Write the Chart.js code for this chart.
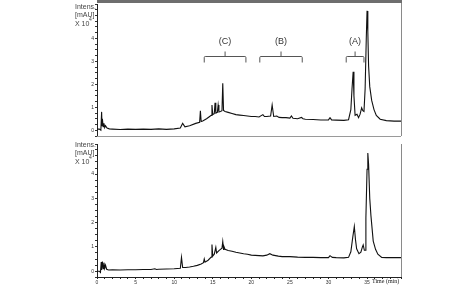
<!DOCTYPE html>
<html>
<head>
  <meta charset="UTF-8">
  <script src="https://cdn.jsdelivr.net/npm/chart.js@4.4.0/dist/chart.umd.min.js"></script>
  <style>
    body { margin: 0; background: #fff; }
    #wrap { position: relative; width: 474px; height: 288px; }
    #wrap canvas { position: absolute; left: 0; }
  </style>
</head>
<body>
  <div id="wrap">
    <canvas id="topChart" width="474" height="140" style="top:0"></canvas>
    <canvas id="bottomChart" width="474" height="148" style="top:140px"></canvas>
  </div>
  <script>
    // retention time (min) and intensity (x10^4 mAU)
    const timeTop = [0, 0.3, 0.5, 0.6, 0.65, 0.7, 0.8, 0.9, 1.0, 1.1, 1.3, 1.6, 2, 3, 4, 5, 6, 7, 8, 9, 10,
      10.8, 11.1, 11.4, 12, 12.8, 13.3, 13.4, 13.5, 13.7, 14.2, 14.6, 14.8, 14.9, 15.0, 15.2, 15.3, 15.4,
      15.6, 15.7, 15.8, 16.0, 16.2, 16.3, 16.4, 16.6, 17, 17.5, 18, 18.5, 19, 19.5, 20, 20.5, 21, 21.5,
      21.7, 22, 22.5, 22.7, 22.9, 23.3, 23.6, 24, 24.5, 25, 25.2, 25.4, 26, 26.5, 26.7, 27, 28, 29, 30,
      30.2, 30.4, 31, 32, 32.6, 32.9, 33.05, 33.2, 33.3, 33.45, 33.7, 33.9, 34.1, 34.3, 34.45, 34.6,
      34.75, 34.9, 35.0, 35.1, 35.2, 35.35, 35.6, 35.9, 36.2, 36.7, 37.5, 38.5, 39.4];
    const intensTop = [0.05, 0.05, 0.0, 0.8, 0.2, 0.5, 0.15, 0.3, 0.12, 0.2, 0.1, 0.06, 0.05, 0.03, 0.05,
      0.04, 0.05, 0.04, 0.06, 0.04, 0.06, 0.1, 0.3, 0.15, 0.2, 0.3, 0.35, 0.85, 0.38, 0.4, 0.5, 0.6, 0.65,
      1.1, 0.68, 0.72, 1.2, 0.75, 0.78, 1.1, 0.8, 0.82, 0.85, 2.05, 0.86, 0.82, 0.78, 0.73, 0.68, 0.66, 0.64,
      0.62, 0.6, 0.6, 0.58, 0.68, 0.6, 0.6, 0.62, 1.1, 0.6, 0.62, 0.56, 0.55, 0.55, 0.53, 0.62, 0.52, 0.5,
      0.56, 0.5, 0.48, 0.47, 0.45, 0.45, 0.55, 0.45, 0.44, 0.43, 0.46, 0.9, 1.8, 2.55, 1.5, 0.65, 0.7,
      0.55, 0.7, 0.98, 0.85, 0.82, 1.8, 4.0, 5.2, 4.3, 2.8, 1.9, 1.3, 0.9, 0.65, 0.48, 0.42, 0.4, 0.4];

    const timeBottom = [0, 0.3, 0.45, 0.55, 0.6, 0.7, 0.8, 0.9, 1.0, 1.1, 1.25, 1.5, 2, 3, 4, 5, 6, 7, 7.5,
      7.7, 8, 9, 10, 10.8, 10.95, 11.1, 11.5, 12, 12.5, 13, 13.5, 13.8, 13.9, 14.0, 14.4, 14.8, 14.9, 15.0,
      15.2, 15.4, 15.5, 15.8, 16.0, 16.2, 16.3, 16.4, 16.45, 16.6, 17, 17.5, 18, 18.5, 19, 19.5, 20, 20.5,
      21, 21.5, 22, 22.4, 22.8, 23.5, 24, 25, 26, 27, 28, 29, 30, 30.2, 30.5, 31, 32, 32.6, 32.9, 33.15,
      33.35, 33.5, 33.65, 33.95, 34.2, 34.4, 34.5, 34.65, 34.75, 34.85, 35.0, 35.1, 35.2, 35.35, 35.5,
      35.8, 36.1, 36.4, 36.9, 37.5, 38.5, 39.4];
    const intensBottom = [0.0, 0.0, -0.05, 0.38, 0.05, 0.4, 0.1, 0.35, 0.12, 0.25, 0.08, 0.05, 0.06, 0.05,
      0.06, 0.06, 0.07, 0.07, 0.1, 0.07, 0.08, 0.09, 0.1, 0.12, 0.57, 0.15, 0.15, 0.17, 0.2, 0.24, 0.3,
      0.35, 0.5, 0.37, 0.45, 0.58, 1.1, 0.62, 0.7, 0.98, 0.75, 0.85, 0.9, 0.95, 1.22, 0.9, 1.02, 0.9, 0.85,
      0.82, 0.78, 0.75, 0.72, 0.7, 0.66, 0.65, 0.64, 0.63, 0.66, 0.72, 0.66, 0.62, 0.6, 0.6, 0.58, 0.57,
      0.57, 0.56, 0.56, 0.64, 0.57, 0.56, 0.55, 0.57, 0.8, 1.4, 1.84, 1.3, 0.92, 0.72, 0.78, 1.0, 1.08,
      0.86, 0.86, 2.2, 4.2, 4.87, 4.4, 3.0, 2.3, 1.24, 0.9, 0.7, 0.57, 0.56, 0.56, 0.56];

    const yTickLabels = [0, 1, 2, 3, 4];
    const xTickLabels = [0, 5, 10, 15, 20, 25, 30, 35];

    // bracketed regions over the top trace
    const braceNames = ['(C)', '(B)', '(A)'];
    const braceFrom = [13.9, 21.1, 32.3];
    const braceTo = [19.3, 26.6, 34.6];
    const braceLevel = 3.23;

    function toPoints(xs, ys) {
      return xs.map((x, i) => ({ x: x, y: ys[i] }));
    }

    const frame = {
      id: 'frame',
      afterDraw(chart, args, opts) {
        const ctx = chart.ctx;
        const a = chart.chartArea;
        ctx.save();
        // right border
        ctx.strokeStyle = '#8a8a8a';
        ctx.lineWidth = 1;
        ctx.beginPath();
        ctx.moveTo(a.right + 0.5, opts.top ? 0 : a.top);
        ctx.lineTo(a.right + 0.5, a.bottom);
        ctx.stroke();
        if (opts.top) {
          ctx.fillStyle = '#6e6e6e';
          ctx.fillRect(a.left, 0, a.right - a.left + 1, 3);
          ctx.strokeStyle = '#9a9a9a';
          ctx.beginPath();
          ctx.moveTo(a.left, a.bottom + 0.5);
          ctx.lineTo(a.right, a.bottom + 0.5);
          ctx.stroke();

          // braces
          const xs = chart.scales.x, ys = chart.scales.y;
          const yl = Math.round(ys.getPixelForValue(braceLevel)) + 0.5;
          ctx.strokeStyle = '#555';
          ctx.fillStyle = '#333';
          ctx.font = '9px "Liberation Sans", Arial, sans-serif';
          ctx.textAlign = 'center';
          ctx.textBaseline = 'middle';
          braceNames.forEach((name, i) => {
            const x1 = xs.getPixelForValue(braceFrom[i]);
            const x2 = xs.getPixelForValue(braceTo[i]);
            const xm = (x1 + x2) / 2;
            ctx.beginPath();
            ctx.moveTo(x1, yl + 6);
            ctx.lineTo(x1, yl + 1);
            ctx.quadraticCurveTo(x1, yl, x1 + 1, yl);
            ctx.lineTo(x2 - 1, yl);
            ctx.quadraticCurveTo(x2, yl, x2, yl + 1);
            ctx.lineTo(x2, yl + 6);
            ctx.moveTo(xm, yl);
            ctx.lineTo(xm, yl - 5);
            ctx.stroke();
            ctx.fillText(name, xm, yl - 15);
          });
        } else {
          ctx.fillStyle = '#222';
          ctx.font = '6px "Liberation Serif", "Times New Roman", serif';
          ctx.textAlign = 'left';
          ctx.textBaseline = 'middle';
          ctx.fillText('Time (min)', a.right - 29, a.bottom + 4);
        }
        // y axis title
        ctx.fillStyle = '#444';
        ctx.font = '7px "Liberation Sans", Arial, sans-serif';
        ctx.textAlign = 'left';
        ctx.textBaseline = 'middle';
        const t = opts.top ? 7 : 5;
        ctx.fillText('Intens.', 75, t);
        ctx.fillText('[mAU]', 75, t + 8);
        ctx.fillText('X 10', 75, t + 17);
        ctx.font = '5px "Liberation Sans", Arial, sans-serif';
        ctx.fillText('4', 89, t + 13);
        ctx.restore();
      }
    };

    function makeChart(id, times, values, isTop) {
      return new Chart(document.getElementById(id), {
        type: 'line',
        data: {
          datasets: [{
            data: toPoints(times, values),
            borderColor: '#111',
            borderWidth: 1.1,
            pointRadius: 0,
            tension: 0,
            fill: false
          }]
        },
        options: {
          responsive: false,
          animation: false,
          layout: { padding: { left: 83, right: 73, top: isTop ? 3 : 0, bottom: isTop ? 2 : 0 } },
          plugins: {
            legend: { display: false },
            tooltip: { enabled: false },
            frame: { top: isTop }
          },
          scales: {
            x: {
              type: 'linear',
              min: 0,
              max: 39.4,
              display: !isTop,
              afterFit(s) { if (!isTop) s.height = 11; },
              grid: { display: true, drawOnChartArea: false, tickLength: 2, color: '#222' },
              border: { color: '#222', width: 1 },
              ticks: {
                stepSize: 1,
                autoSkip: false,
                maxRotation: 0,
                padding: 1,
                color: '#333',
                font: { size: 5, family: '"Liberation Sans", Arial, sans-serif' },
                callback: v => xTickLabels.includes(v) ? String(v) : ''
              }
            },
            y: {
              min: isTop ? -0.25 : -0.24,
              max: isTop ? 5.5 : 5.24,
              afterFit(s) { s.width = 14; },
              grid: { display: true, drawOnChartArea: false, tickLength: 2, color: '#333' },
              border: { color: '#222', width: 1 },
              ticks: {
                stepSize: 0.25,
                autoSkip: false,
                padding: 1,
                color: '#333',
                font: { size: 5, family: '"Liberation Sans", Arial, sans-serif' },
                callback: v => yTickLabels.includes(v) ? String(v) : ''
              }
            }
          }
        },
        plugins: [frame]
      });
    }

    makeChart('topChart', timeTop, intensTop, true);
    makeChart('bottomChart', timeBottom, intensBottom, false);
  </script>
</body>
</html>
